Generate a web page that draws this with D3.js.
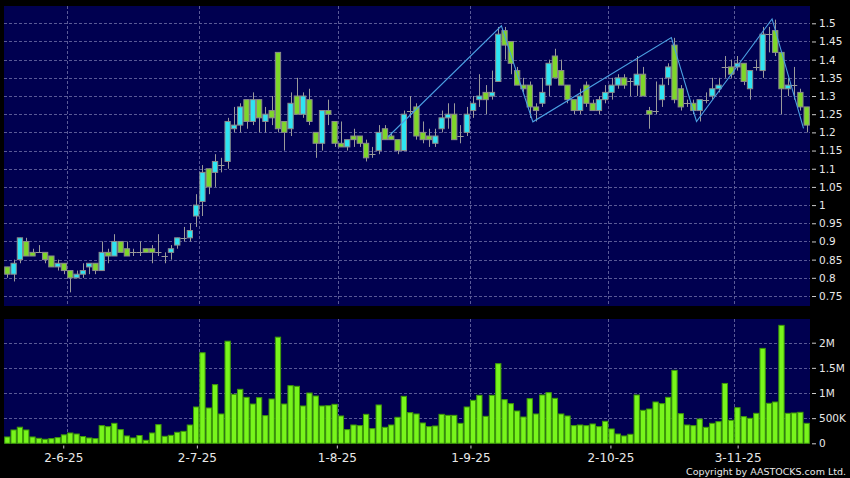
<!DOCTYPE html>
<html><head><meta charset="utf-8">
<script src="https://cdn.jsdelivr.net/npm/d3@7/dist/d3.min.js"></script>
<style>html,body{margin:0;padding:0;background:#000;}svg{display:block;}</style>
</head><body><svg id="c" width="850" height="478"></svg>
<script>
// ---- data ----
const monthDays = [
  ["5-25",[20,21,22,23,26,27,28,29,30]],
  ["6-25",[2,3,4,5,6,9,10,11,12,13,16,17,18,19,20,23,24,25,26,27,30]],
  ["7-25",[2,3,4,7,8,9,10,11,14,15,16,17,18,21,22,23,24,25,28,29,30,31]],
  ["8-25",[1,4,5,6,7,8,11,12,13,14,15,18,19,20,21,22,25,26,27,28,29]],
  ["9-25",[1,2,3,4,5,8,9,10,11,12,15,16,17,18,19,22,23,24,25,26,29,30]],
  ["10-25",[2,3,6,8,9,10,13,14,15,16,17,20,21,22,23,24,27,28,30,31]],
  ["11-25",[3,4,5,6,7,10,11,12,13,14,17,18,19]]
];
const dates = monthDays.flatMap(([m, ds]) => ds.map(d => d + "-" + m));

const openV  = [0.83,0.81,0.85,0.90,0.87,0.87,0.87,0.86,0.83,0.84,0.82,0.80,0.81,0.83,0.84,0.82,0.87,0.86,0.90,0.88,
0.87,0.87,0.88,0.88,0.87,0.86,0.87,0.89,0.91,0.91,0.97,1.01,1.10,1.09,1.11,1.12,1.21,1.22,1.29,1.23,
1.29,1.23,1.26,1.42,1.23,1.21,1.30,1.25,1.29,1.20,1.17,1.26,1.23,1.17,1.16,1.19,1.19,1.17,1.14,1.15,
1.21,1.19,1.18,1.15,1.26,1.27,1.20,1.19,1.17,1.21,1.24,1.25,1.19,1.20,1.26,1.29,1.31,1.30,1.34,1.48,
1.45,1.37,1.33,1.33,1.27,1.28,1.33,1.41,1.37,1.33,1.29,1.26,1.33,1.28,1.26,1.29,1.31,1.33,1.35,1.34,
1.33,1.36,1.26,1.26,1.29,1.35,1.44,1.32,1.28,1.28,1.26,1.29,1.30,1.32,1.38,1.38,1.38,1.39,1.32,1.38,
1.37,1.47,1.48,1.42,1.32,1.33,1.31,1.27];
const highV  = [0.83,0.85,0.91,0.91,0.88,0.89,0.87,0.86,0.85,0.84,0.82,0.82,0.84,0.84,0.84,0.90,0.88,0.92,0.90,0.90,
0.88,0.90,0.88,0.89,0.92,0.87,0.89,0.91,0.94,0.95,1.03,1.11,1.10,1.14,1.13,1.24,1.27,1.28,1.29,1.31,
1.29,1.27,1.30,1.42,1.23,1.31,1.35,1.31,1.32,1.20,1.26,1.29,1.23,1.23,1.18,1.21,1.19,1.18,1.16,1.22,
1.22,1.20,1.18,1.26,1.30,1.28,1.23,1.21,1.21,1.26,1.28,1.28,1.22,1.27,1.30,1.36,1.33,1.37,1.49,1.49,
1.45,1.38,1.35,1.34,1.28,1.35,1.40,1.43,1.40,1.33,1.29,1.32,1.34,1.29,1.30,1.33,1.35,1.36,1.36,1.35,
1.41,1.38,1.27,1.34,1.35,1.39,1.46,1.33,1.29,1.29,1.29,1.31,1.35,1.35,1.41,1.40,1.41,1.39,1.37,1.40,
1.49,1.49,1.51,1.42,1.35,1.38,1.32,1.27];
const lowV   = [0.80,0.79,0.84,0.86,0.86,0.87,0.84,0.83,0.82,0.81,0.76,0.80,0.80,0.81,0.81,0.82,0.84,0.86,0.87,0.86,
0.86,0.86,0.87,0.84,0.86,0.84,0.85,0.88,0.90,0.90,0.94,0.97,1.03,1.05,1.09,1.10,1.20,1.20,1.21,1.22,
1.20,1.20,1.22,1.20,1.15,1.19,1.25,1.24,1.22,1.13,1.15,1.22,1.16,1.16,1.15,1.16,1.16,1.12,1.13,1.14,
1.18,1.18,1.14,1.15,1.24,1.18,1.17,1.16,1.16,1.20,1.21,1.18,1.17,1.19,1.24,1.27,1.25,1.29,1.34,1.40,
1.36,1.33,1.31,1.24,1.23,1.27,1.30,1.35,1.33,1.28,1.25,1.25,1.27,1.26,1.25,1.28,1.29,1.32,1.32,1.30,
1.30,1.30,1.21,1.25,1.27,1.33,1.28,1.26,1.27,1.25,1.23,1.28,1.29,1.31,1.35,1.35,1.37,1.33,1.29,1.37,
1.35,1.42,1.41,1.25,1.30,1.29,1.26,1.20];
const closeV = [0.81,0.84,0.91,0.86,0.86,0.87,0.85,0.83,0.84,0.82,0.80,0.81,0.82,0.84,0.82,0.87,0.86,0.90,0.87,0.86,
0.87,0.87,0.87,0.87,0.87,0.86,0.88,0.91,0.91,0.93,1.00,1.09,1.05,1.12,1.11,1.23,1.22,1.27,1.23,1.29,
1.24,1.25,1.24,1.21,1.20,1.28,1.25,1.30,1.23,1.17,1.26,1.25,1.17,1.16,1.18,1.18,1.17,1.13,1.14,1.20,
1.18,1.18,1.15,1.25,1.26,1.19,1.18,1.18,1.19,1.24,1.25,1.18,1.19,1.25,1.28,1.30,1.29,1.31,1.47,1.44,
1.39,1.33,1.32,1.27,1.26,1.31,1.39,1.35,1.33,1.29,1.26,1.30,1.28,1.26,1.29,1.31,1.33,1.35,1.33,1.34,
1.36,1.30,1.25,1.26,1.33,1.38,1.29,1.27,1.28,1.26,1.29,1.29,1.32,1.33,1.38,1.36,1.39,1.34,1.37,1.38,
1.47,1.47,1.42,1.32,1.33,1.33,1.27,1.22];
// volume in thousands of shares
const volumeK = [126,265,320,265,126,99,80,93,113,168,205,185,135,106,93,351,331,397,272,146,
106,155,60,205,371,139,159,219,238,364,722,1800,702,1166,583,2030,974,1073,914,781,
907,550,881,2110,781,1146,1133,742,1000,940,742,748,775,543,272,364,351,576,291,762,
318,364,517,934,609,583,404,331,344,576,556,556,397,722,854,954,536,954,1583,868,
788,642,523,887,583,960,1007,894,583,543,351,364,351,384,331,437,285,185,146,179,
960,656,682,821,788,914,1450,589,364,351,483,318,397,430,1190,457,709,530,497,596,
1887,795,821,2345,596,603,616,397];
// zigzag indicator vertices (bar index, price)
const zigIdx = [61, 79, 84, 106, 110, 122, 127];
const zigVal = [1.188, 1.493, 1.229, 1.461, 1.230, 1.512, 1.211];

const priceTicks = [0.75,0.8,0.85,0.9,0.95,1,1.05,1.1,1.15,1.2,1.25,1.3,1.35,1.4,1.45,1.5];
const volTicks = [0, 500000, 1000000, 1500000, 2000000];
const volTickLabels = ["0","500K","1M","1.5M","2M"];
const xTickLabels = ["2-6-25","2-7-25","1-8-25","1-9-25","2-10-25","3-11-25"];

// ---- layout ----
const L = 4, R = 810;
const pTop = 6, pBot = 306;
const vTop = 319, vBot = 443.5;
const bg = "#000050", gridC = "#5a5a96", textC = "#e8e8e8";
const upC = "#2ee4f2", downC = "#7ed62a", edgeC = "#8c8c8c", wickC = "#9a9a9a";
const volFill = "#78f51c", volEdge = "#3e9a08", zigC = "#4a9fe2";
const font = "DejaVu Sans, Verdana, sans-serif";

const svg = d3.select("#c");
svg.append("rect").attr("width",850).attr("height",478).attr("fill","#000");
svg.append("rect").attr("x",L).attr("y",pTop).attr("width",R-L).attr("height",pBot-pTop).attr("fill",bg);
svg.append("rect").attr("x",L).attr("y",vTop).attr("width",R-L).attr("height",vBot-vTop).attr("fill",bg);

const x = d3.scaleBand().domain(dates).range([L, R]).paddingInner(0.16).paddingOuter(0.11);
const step = x.step(), bw = x.bandwidth();
const cx = d => x(d) + bw/2;
const xAxisPos = d3.scalePoint().domain(dates).range([6, 814]);
const y = d3.scaleLinear().domain([0.75, 1.5]).range([296, 23.3]);
const yv = d3.scaleLinear().domain([0, 2000000]).range([443.3, 342.7]);

// grid
const g = svg.append("g").attr("stroke", gridC).attr("stroke-dasharray","3,2").attr("stroke-width",1).attr("shape-rendering","crispEdges");
g.selectAll(".hp").data(priceTicks).join("line")
  .attr("x1",L).attr("x2",R).attr("y1",d=>Math.round(y(d))+0.5).attr("y2",d=>Math.round(y(d))+0.5);
g.selectAll(".hv").data(volTicks.slice(1)).join("line").attr("class","hv")
  .attr("x1",L).attr("x2",R).attr("y1",d=>Math.round(yv(d))+0.5).attr("y2",d=>Math.round(yv(d))+0.5);
const gridX = xTickLabels.map(d => cx(d) + step/2);
g.selectAll(".vp").data(gridX).join("line").attr("class","vp")
  .attr("x1",d=>Math.round(d)+0.5).attr("x2",d=>Math.round(d)+0.5).attr("y1",pTop).attr("y2",pBot);
g.selectAll(".vv").data(gridX).join("line").attr("class","vv")
  .attr("x1",d=>Math.round(d)+0.5).attr("x2",d=>Math.round(d)+0.5).attr("y1",vTop).attr("y2",vBot);

// candles
const bars = dates.map((d,i)=>({d, o:openV[i], h:highV[i], l:lowV[i], c:closeV[i], v:volumeK[i]*1000}));
const cg = svg.append("g");
cg.selectAll(".wick").data(bars).join("line")
  .attr("x1",d=>Math.round(cx(d.d))+0.5).attr("x2",d=>Math.round(cx(d.d))+0.5)
  .attr("y1",d=>y(d.h)).attr("y2",d=>y(d.l)).attr("stroke",wickC).attr("stroke-width",1);
cg.selectAll(".body").data(bars.filter(b=>b.o!==b.c)).join("rect")
  .attr("x",d=>x(d.d)).attr("width",bw)
  .attr("y",d=>y(Math.max(d.o,d.c))).attr("height",d=>Math.abs(y(d.o)-y(d.c)))
  .attr("fill",d=>d.c>d.o?upC:downC).attr("stroke",edgeC).attr("stroke-width",1);
cg.selectAll(".doji").data(bars.filter(b=>b.o===b.c)).join("line")
  .attr("x1",d=>x(d.d)-0.5).attr("x2",d=>x(d.d)+bw+0.5)
  .attr("y1",d=>Math.round(y(d.c))+0.5).attr("y2",d=>Math.round(y(d.c))+0.5)
  .attr("stroke",wickC).attr("stroke-width",1);

// zigzag
const zz = zigIdx.map((k,i)=>[cx(dates[k]) - step/2, y(zigVal[i])]);
svg.append("path").attr("d", d3.line()(zz)).attr("fill","none").attr("stroke",zigC).attr("stroke-width",1.1);

// volume
svg.append("g").selectAll("rect").data(bars).join("rect")
  .attr("x",d=>x(d.d)).attr("width",bw)
  .attr("y",d=>yv(d.v)).attr("height",d=>yv(0)-yv(d.v))
  .attr("fill",volFill).attr("stroke",volEdge).attr("stroke-width",1);

// axes
const ya = svg.append("g").attr("transform",`translate(${R+2},0)`)
  .call(d3.axisRight(y).tickValues(priceTicks).tickSize(4).tickPadding(3).tickFormat(d=>String(d)));
const yva = svg.append("g").attr("transform",`translate(${R+2},0)`)
  .call(d3.axisRight(yv).tickValues(volTicks).tickSize(4).tickPadding(3).tickFormat((d,i)=>volTickLabels[i]));
const xa = svg.append("g").attr("transform",`translate(0,${vBot+2})`)
  .call(d3.axisBottom(xAxisPos).tickValues(xTickLabels).tickSize(3).tickPadding(5));
[ya,yva,xa].forEach(a=>{
  a.select(".domain").remove();
  a.selectAll("line").attr("stroke","#cccccc");
  a.selectAll("text").attr("fill",textC).attr("font-family",font);
});
ya.selectAll("text").attr("font-size",10.5);
yva.selectAll("text").attr("font-size",10.5);
xa.selectAll("text").attr("font-size",12);

svg.append("text").attr("x",846).attr("y",474.5).attr("text-anchor","end")
  .attr("fill",textC).attr("font-family",font).attr("font-size",9.5)
  .text("Copyright by AASTOCKS.com Ltd.");
</script></body></html>
